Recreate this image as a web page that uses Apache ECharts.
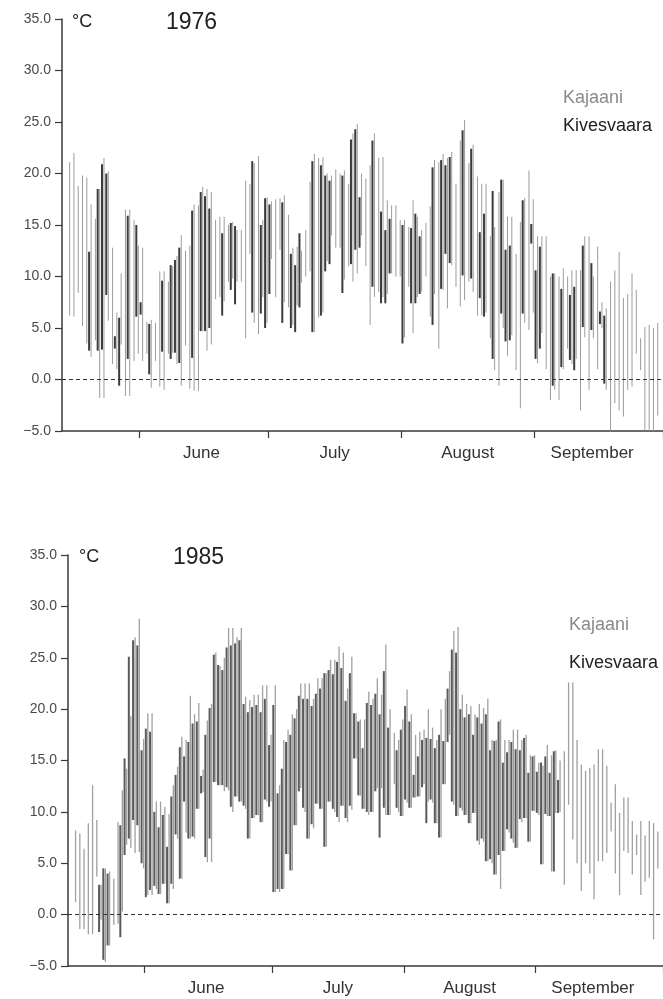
<!DOCTYPE html>
<html>
<head>
<meta charset="utf-8">
<script src="https://cdn.jsdelivr.net/npm/echarts@6/dist/echarts.min.js"></script>
<style>
html,body{margin:0;padding:0;background:#fff;}
#chart{width:663px;height:999px;}
</style>
</head>
<body>
<div id="chart"></div>
<script>
// ---- categories: days from 14 May to 30 September ----
const monthNames = {'05':'May','06':'June','07':'July','08':'August','09':'September'};
const monthLengths = [['05',31],['06',30],['07',31],['08',31],['09',30]];
const startDay = 14;
const labelDays = ['06-15','07-16','08-16','09-14'];
const tickDays = ['06-01','07-01','08-01','09-01'];
const yTicks = [-5, 0, 5, 10, 15, 20, 25, 30, 35];

// ---- 1976 daily [min, max] (°C) ----
const kajaani1976 = [
null,[6.2,21.1],[6.1,22.0],[8.4,18.8],[5.2,19.8],[3.5,19.6],[2.2,17.0],[3.8,15.6],[-1.8,18.5],[-1.8,21.5],
[5.7,20.2],[1.5,12.8],[1.0,6.5],[3.4,10.3],[-1.6,16.5],[-1.6,16.5],[1.8,15.5],[2.5,13.0],[1.8,12.8],[2.5,5.6],
[-0.8,5.8],[1.8,5.5],[-0.7,10.5],[-1.0,10.5],[2.5,9.5],[2.6,11.0],[1.5,12.0],[-0.6,14.0],[3.3,12.5],[-0.9,13.0],
[-1.1,17.0],[-1.1,16.9],[4.7,18.7],[2.8,18.5],[3.4,18.2],[7.8,15.5],[8.0,15.8],[7.6,15.8],[9.5,15.0],[9.8,15.3],
[9.5,14.5],[9.5,14.5],[4.0,19.3],[12.2,19.0],[5.5,21.0],[4.4,21.7],[8.0,15.5],[5.5,17.7],[11.7,17.3],[8.0,17.5],
[12.6,17.6],[7.5,17.9],[7.0,16.0],[5.3,12.8],[7.2,12.9],[9.4,12.5],[10.0,14.5],[10.5,19.2],[4.6,21.9],[6.0,21.5],
[6.5,21.6],[11.5,20.0],[14.0,19.8],[12.8,20.4],[12.8,20.0],[9.7,20.3],[11.0,19.0],[9.5,23.9],[10.3,24.8],[14.0,20.0],
[11.0,19.5],[5.3,20.8],[8.0,23.9],[8.5,21.5],[8.0,21.6],[8.3,17.4],[10.3,16.9],[10.0,16.9],[10.0,15.5],[4.1,15.5],
[9.0,14.8],[4.5,17.4],[8.0,15.8],[8.5,14.5],[10.0,15.2],[6.1,16.8],[8.3,21.3],[3.0,21.1],[8.7,21.9],[6.9,21.5],
[11.1,22.1],[9.0,19.0],[7.1,23.2],[7.7,25.2],[9.5,21.0],[8.5,22.8],[6.2,19.7],[6.2,19.0],[6.5,19.0],[4.0,13.9],
[0.9,14.8],[-0.6,18.2],[5.0,19.4],[2.3,15.8],[4.3,15.8],[0.9,12.2],[-2.8,15.3],[5.5,17.6],[4.8,20.3],[6.5,17.5],
[1.6,13.9],[4.5,13.9],[1.0,13.9],[-2.0,10.0],[-1.0,10.3],[-2.0,10.0],[1.0,10.8],[3.0,10.0],[1.5,10.6],[2.0,10.6],
[-3.0,10.6],[4.1,13.9],[-1.0,13.9],[4.0,10.0],[1.0,12.9],[5.0,7.5],[-1.0,6.9],[-5.2,9.5],[-2.3,10.6],[-3.0,12.4],
[-3.6,7.9],[-1.0,8.3],[-0.7,10.3],[2.5,8.7],[0.9,4.0],[-5.2,5.1],[-5.2,5.3],[-5.2,5.0],[-3.5,5.5],null
];
const kivesvaara1976 = [
null,null,null,null,null,null,[2.8,12.4],null,[2.8,18.5],[2.9,20.9],
[8.2,20.0],null,[3.0,4.2],[-0.6,6.0],null,[2.0,15.9],null,[6.1,15.0],[6.3,7.5],null,
[0.5,5.4],null,null,[2.7,9.6],null,[2.0,11.1],[2.6,11.6],[1.6,12.8],null,null,
[2.1,16.4],null,[4.7,18.2],[4.7,17.8],[5.0,16.6],null,null,[6.2,14.2],null,[8.7,15.2],
[7.3,14.9],null,null,null,[6.5,21.2],null,[6.4,15.0],[5.0,17.6],[8.3,17.0],null,
null,[5.5,17.2],null,[5.0,12.2],[4.6,11.1],[7.0,14.2],null,null,[4.6,21.2],null,
[6.2,20.8],[10.5,19.8],[11.2,19.3],null,null,[8.4,19.8],null,[11.2,23.3],[12.6,24.3],[12.8,17.7],
null,null,[9.0,23.2],null,[7.4,16.3],[7.4,14.5],[10.3,15.6],null,null,[3.5,15.0],
null,[7.4,14.7],[7.4,16.1],[8.3,13.9],null,null,[5.3,20.6],null,[8.8,21.3],[12.2,20.8],
[11.3,21.6],null,null,[10.1,24.2],null,[9.8,22.4],null,[7.9,14.3],[6.1,16.1],null,
[2.0,18.3],null,[6.4,19.4],[3.7,12.6],[3.8,13.0],null,null,[6.4,17.4],null,[13.2,15.1],
[2.0,10.6],[3.0,12.9],null,null,[-0.6,10.3],null,[1.2,8.8],null,[1.9,8.2],[0.9,9.0],
null,[5.1,13.0],null,[4.8,11.3],null,[5.4,6.6],[-0.4,6.2],null,null,null,
null,null,null,null,null,null,null,null,null,null
];

// ---- 1985 daily [min, max] (°C) ----
const kajaani1985 = [
null,[1.2,8.2],[-1.4,7.9],[-1.4,6.4],[-1.9,8.9],[-1.9,12.6],[3.7,9.2],[-0.5,2.9],[-4.6,4.5],[-3.0,4.2],
[-1.0,3.5],[-0.9,9.0],[0.3,12.1],[6.8,14.2],[6.5,19.3],[6.0,27.0],[6.1,28.8],[4.5,17.1],[1.9,19.6],[1.9,19.6],
[2.5,11.0],[2.0,11.0],[3.0,10.5],[1.1,9.8],[2.5,12.6],[7.4,14.4],[3.5,17.3],[8.0,17.0],[7.4,21.3],[7.4,19.5],
[10.3,20.6],[11.9,14.1],[5.1,18.9],[5.1,20.5],[12.9,25.5],[12.6,24.2],[12.0,25.0],[12.1,27.9],[10.0,27.9],[11.5,27.0],
[11.0,27.9],[10.3,21.2],[7.4,20.9],[9.4,21.4],[9.7,21.4],[9.0,22.3],[11.0,22.3],[11.0,17.5],[2.2,22.3],[2.2,12.6],
[2.5,17.0],[5.9,18.0],[4.3,19.5],[8.7,20.0],[12.3,22.5],[10.0,22.5],[7.4,22.5],[8.4,21.0],[10.8,23.0],[10.3,23.0],
[6.6,23.5],[11.0,24.8],[10.0,24.8],[9.0,26.1],[10.6,25.5],[9.0,22.0],[10.2,25.1],[15.2,19.6],[11.6,19.0],[10.3,19.0],
[9.7,21.7],[10.0,21.0],[12.3,23.0],[12.3,21.4],[9.7,26.3],[9.7,20.0],[12.7,17.7],[10.0,17.0],[9.6,19.0],[10.9,21.9],
[10.4,19.5],[11.4,17.5],[11.5,17.8],[12.7,18.0],[11.0,20.0],[10.9,18.2],[8.9,17.0],[7.5,20.0],[12.7,21.0],[17.5,23.7],
[10.7,27.6],[9.6,28.0],[10.1,21.4],[9.7,20.5],[8.9,20.3],[9.9,19.5],[6.8,20.5],[7.1,20.1],[5.2,21.0],[5.0,17.0],
[3.9,17.0],[2.5,19.0],[6.2,17.0],[8.0,17.0],[7.0,18.0],[6.5,18.0],[9.0,17.0],[9.4,17.5],[7.1,15.5],[10.1,15.5],
[9.7,14.8],[4.9,14.5],[9.6,16.5],[4.2,15.5],[9.9,16.0],[10.0,15.0],[2.9,15.9],[10.7,22.6],[7.3,22.6],[5.0,17.0],
[2.3,14.6],[5.0,14.0],[4.0,14.3],[1.5,14.6],[5.2,16.1],[5.2,16.1],[6.0,14.5],[8.1,10.9],[4.0,12.7],[1.9,9.9],
[6.2,11.4],[6.0,11.4],[3.9,9.1],[5.8,7.8],[1.9,9.1],[3.2,7.7],[3.6,9.1],[-2.4,8.9],[4.5,8.1],null
];
const kivesvaara1985 = [
null,null,null,null,null,null,null,[-1.7,2.9],[-4.4,4.5],[-3.0,4.0],
null,null,[-2.2,8.7],[5.8,15.2],[7.4,25.1],[9.2,26.7],[8.7,26.2],[5.0,16.0],[1.7,18.1],[2.4,17.8],
[2.8,10.0],[2.0,8.5],[3.0,9.7],[1.1,6.6],[3.0,11.5],[7.8,13.6],[3.5,16.3],[11.0,15.4],[7.4,16.8],[7.6,18.6],
[10.3,18.8],[11.8,13.5],[5.6,17.5],[7.4,20.1],[12.9,25.3],[12.6,24.3],[12.6,23.8],[12.4,26.0],[10.5,26.2],[11.5,26.4],
[11.0,26.7],[10.6,20.5],[7.4,19.7],[9.4,20.2],[9.7,20.4],[9.0,19.7],[11.2,21.0],[10.5,16.5],[2.2,20.4],[2.5,11.8],
[2.5,14.2],[5.9,16.8],[4.3,17.5],[8.7,19.1],[12.0,21.3],[10.4,21.0],[7.4,21.0],[8.8,20.3],[10.8,21.5],[10.3,22.0],
[6.6,23.5],[11.0,23.8],[10.3,23.4],[9.5,24.6],[10.6,24.0],[9.4,20.8],[10.6,23.5],[15.2,19.6],[11.6,18.8],[10.3,16.2],
[10.0,20.6],[10.0,20.4],[12.0,21.5],[7.5,19.5],[10.4,23.7],[9.7,18.2],null,[10.4,16.0],[9.6,18.0],[11.2,20.3],
[10.4,18.8],[11.4,13.6],[11.5,15.4],[12.4,17.0],[8.9,17.2],[11.2,17.1],[8.9,16.2],[7.5,17.5],[12.7,16.9],[16.8,22.0],
[11.0,25.8],[9.6,25.5],[10.4,20.0],[9.7,19.2],[8.9,19.5],[9.9,17.5],[7.2,19.2],[7.4,18.6],[5.2,19.5],[5.4,16.0],
[3.9,16.9],[5.8,18.8],[6.2,14.8],[8.3,15.8],[7.4,16.8],[6.5,16.1],[9.3,16.0],[9.4,17.2],[7.1,13.8],[10.1,15.4],
[9.9,13.9],[4.9,14.8],[9.8,15.4],[9.6,13.8],[4.2,15.9],[9.9,13.1],null,null,null,null,
null,null,null,null,null,null,null,null,null,null,
null,null,null,null,null,null,null,null,null,null
];

// ---- build category labels ----
const days = [];
monthLengths.forEach(function (m) {
  const first = m[0] === '05' ? startDay : 1;
  for (let d = first; d <= m[1]; d++) days.push(m[0] + '-' + (d < 10 ? '0' + d : '' + d));
});
const labelIdx = labelDays.map(function (s) { return days.indexOf(s); });
const tickIdx = tickDays.map(function (s) { return days.indexOf(s); });

function toData(pairs) {
  const out = [];
  pairs.forEach(function (p, i) { if (p) out.push([i, p[0], p[1]]); });
  return out;
}
function rangeBar(offset, width, color) {
  return function (params, api) {
    const x = api.value(0);
    const p1 = api.coord([x, api.value(1)]);
    const p2 = api.coord([x, api.value(2)]);
    return {
      type: 'line',
      shape: { x1: p1[0] + offset, y1: p1[1], x2: p2[0] + offset, y2: p2[1] },
      style: { stroke: color, lineWidth: width }
    };
  };
}

const FONT = 'Liberation Sans, Arial, sans-serif';
const zeroLine = {
  silent: true, symbol: ['none', 'none'], label: { show: false },
  lineStyle: { type: [4, 3], color: '#333', width: 1 },
  data: [{ yAxis: 0 }]
};

function xAxisFor(gridIndex) {
  return {
    type: 'category', gridIndex: gridIndex, data: days, boundaryGap: true,
    axisLine: { onZero: false, lineStyle: { color: '#3a3a3a', width: 1.5 } },
    axisTick: { show: true, length: 7, lineStyle: { color: '#3a3a3a', width: 1.2 },
      interval: function (i) { return tickIdx.indexOf(i) >= 0; } },
    axisLabel: { show: true, fontFamily: FONT, fontSize: 17, color: '#333', margin: 14,
      interval: function (i) { return labelIdx.indexOf(i) >= 0; },
      formatter: function (v) { return monthNames[v.slice(0, 2)]; } },
    splitLine: { show: false }
  };
}
function yAxisFor(gridIndex) {
  return {
    type: 'value', gridIndex: gridIndex, min: yTicks[0], max: yTicks[yTicks.length - 1], interval: 5,
    axisLine: { show: true, lineStyle: { color: '#3a3a3a', width: 1.5 } },
    axisTick: { show: true, length: 7, lineStyle: { color: '#3a3a3a', width: 1.2 } },
    axisLabel: { fontFamily: FONT, fontSize: 14, color: '#4a4a4a', margin: 11,
      formatter: function (v) { return (v < 0 ? '\u2212' : '') + Math.abs(v).toFixed(1); } },
    splitLine: { show: false }
  };
}

const chart = echarts.init(document.getElementById('chart'), null, { renderer: 'canvas' });
chart.setOption({
  animation: false,
  backgroundColor: '#fff',
  title: [
    { text: '\u00B0C', left: 67, top: 8, textStyle: { fontFamily: FONT, fontSize: 18, fontWeight: 'normal', color: '#222' } },
    { text: '1976', left: 161, top: 6, textStyle: { fontFamily: FONT, fontSize: 23, fontWeight: 'normal', color: '#222' } },
    { text: '\u00B0C', left: 74, top: 543, textStyle: { fontFamily: FONT, fontSize: 18, fontWeight: 'normal', color: '#222' } },
    { text: '1985', left: 168, top: 541, textStyle: { fontFamily: FONT, fontSize: 23, fontWeight: 'normal', color: '#222' } }
  ],
  legend: [
    { left: 553, top: 84, orient: 'vertical', itemWidth: 0, itemHeight: 0, itemGap: 10, selectedMode: false,
      textStyle: { fontFamily: FONT, fontSize: 18 },
      data: [{ name: 'Kajaani', textStyle: { color: '#8a8a8a' } }, { name: 'Kivesvaara', textStyle: { color: '#222' } }] },
    { left: 559, top: 611, orient: 'vertical', itemWidth: 0, itemHeight: 0, itemGap: 20, selectedMode: false,
      textStyle: { fontFamily: FONT, fontSize: 18 },
      data: [{ name: 'Kajaani', textStyle: { color: '#8a8a8a' } }, { name: 'Kivesvaara', textStyle: { color: '#222' } }] }
  ],
  grid: [
    { left: 62, top: 19, width: 610, height: 412 },
    { left: 68, top: 555, width: 610, height: 411 }
  ],
  xAxis: [xAxisFor(0), xAxisFor(1)],
  yAxis: [yAxisFor(0), yAxisFor(1)],
  series: [
    { type: 'custom', name: 'Kajaani', xAxisIndex: 0, yAxisIndex: 0, clip: true, z: 2,
      renderItem: rangeBar(1.2, 1, '#9c9c9c'), encode: { x: 0, y: [1, 2] },
      data: toData(kajaani1976), markLine: zeroLine },
    { type: 'custom', name: 'Kivesvaara', xAxisIndex: 0, yAxisIndex: 0, clip: true, z: 3,
      renderItem: rangeBar(-0.8, 2, '#3c3c3c'), encode: { x: 0, y: [1, 2] },
      data: toData(kivesvaara1976) },
    { type: 'custom', name: 'Kajaani', xAxisIndex: 1, yAxisIndex: 1, clip: true, z: 2,
      renderItem: rangeBar(1.2, 1.3, '#a0a0a0'), encode: { x: 0, y: [1, 2] },
      data: toData(kajaani1985), markLine: zeroLine },
    { type: 'custom', name: 'Kivesvaara', xAxisIndex: 1, yAxisIndex: 1, clip: true, z: 3,
      renderItem: rangeBar(-0.8, 2, '#5a5a5a'), encode: { x: 0, y: [1, 2] },
      data: toData(kivesvaara1985) }
  ]
});
</script>
</body>
</html>
